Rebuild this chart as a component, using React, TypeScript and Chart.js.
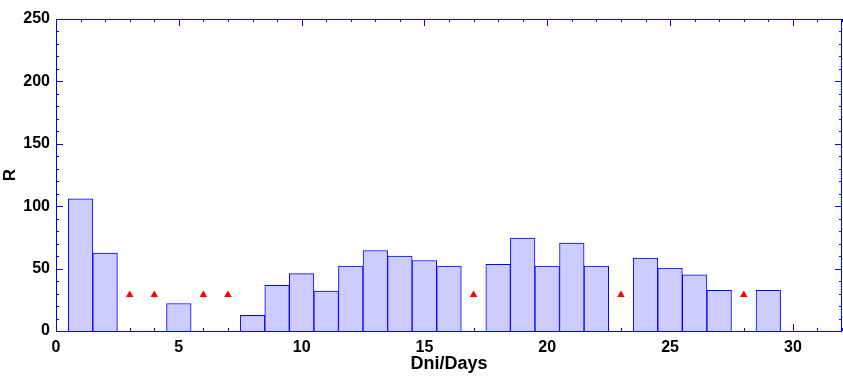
import React, { useEffect, useRef } from "react";
import { Chart, registerables } from "chart.js";

Chart.register(...registerables);

const barDays = [1, 2, 5, 8, 9, 10, 11, 12, 13, 14, 15, 16, 18, 19, 20, 21, 22, 24, 25, 26, 27, 29];
const barValues = [106, 62.5, 22, 12.5, 36.5, 46, 32, 52, 64.5, 60, 56.5, 52, 53.5, 74.5, 52, 70.5, 52, 58.5, 50.5, 45, 32.5, 32.5];
const markerDays = [3, 4, 6, 7, 17, 23, 28];
const markerValues = [29, 29, 29, 29, 29, 29, 29];

const X_MIN = 0;
const X_MAX = 32;
const Y_MIN = 0;
const Y_MAX = 250;

const BLUE = "#0000ff";
const FONT = "'Liberation Sans', Arial, sans-serif";

const tickPlugin = {
  id: "innerTicks",
  beforeDatasetsDraw(chart: any) {
    const { ctx, chartArea, scales } = chart;
    const xs = scales.x;
    const ys = scales.y;
    ctx.save();
    ctx.strokeStyle = BLUE;
    ctx.lineWidth = 1;
    ctx.beginPath();
    for (let v = X_MIN; v <= X_MAX; v += 1) {
      const px = Math.round(xs.getPixelForValue(v)) + 0.5;
      const len = v % 5 === 0 ? 7 : 3;
      ctx.moveTo(px, chartArea.top);
      ctx.lineTo(px, chartArea.top + len);
      ctx.moveTo(px, chartArea.bottom);
      ctx.lineTo(px, chartArea.bottom - len);
    }
    for (let v = Y_MIN; v <= Y_MAX; v += 10) {
      const py = Math.round(ys.getPixelForValue(v)) + 0.5;
      const len = v % 50 === 0 ? 7 : 3;
      ctx.moveTo(chartArea.left, py);
      ctx.lineTo(chartArea.left + len, py);
      ctx.moveTo(chartArea.right, py);
      ctx.lineTo(chartArea.right - len, py);
    }
    ctx.stroke();
    ctx.restore();
  },
  afterDatasetsDraw(chart: any) {
    const { ctx, chartArea } = chart;
    ctx.save();
    ctx.strokeStyle = BLUE;
    ctx.lineWidth = 1;
    const l = Math.round(chartArea.left) + 0.5;
    const r = Math.round(chartArea.right) - 0.5;
    const t = Math.round(chartArea.top) + 0.5;
    const b = Math.round(chartArea.bottom) + 0.5;
    ctx.strokeRect(l, t, r - l, b - t);
    ctx.restore();
  },
};

export default function App() {
  const canvasRef = useRef<HTMLCanvasElement | null>(null);

  useEffect(() => {
    document.body.style.margin = "0";
    const canvas = canvasRef.current;
    if (!canvas) return;
    const chart = new Chart(canvas, {
      type: "bar",
      data: {
        datasets: [
          {
            type: "bar",
            label: "R",
            data: barDays.map((d, i) => ({ x: d, y: barValues[i] })),
            backgroundColor: "#ccccff",
            borderColor: BLUE,
            borderWidth: 1,
            borderSkipped: "start",
            categoryPercentage: 1,
            barPercentage: 1,
            order: 2,
          } as any,
          {
            type: "scatter",
            label: "missing",
            data: markerDays.map((d, i) => ({ x: d, y: markerValues[i] })),
            pointStyle: "triangle",
            radius: 4.4,
            backgroundColor: "#ff0000",
            borderColor: "#ff0000",
            borderWidth: 0,
            order: 1,
          } as any,
        ],
      },
      options: {
        animation: false,
        responsive: false,
        maintainAspectRatio: false,
        layout: { autoPadding: false, padding: { top: 19, right: 1, left: 0, bottom: 0 } },
        plugins: {
          legend: { display: false },
          tooltip: { enabled: false },
        },
        scales: {
          x: {
            type: "linear",
            min: X_MIN,
            max: X_MAX,
            offset: false,
            grid: { display: false, drawTicks: false, tickLength: 0 },
            border: { display: false },
            ticks: {
              stepSize: 5,
              includeBounds: false,
              autoSkip: false,
              maxRotation: 0,
              padding: 7,
              color: "#000",
              font: { family: FONT, size: 16, weight: "bold" },
            },
            title: {
              display: true,
              text: "Dni/Days",
              color: "#000",
              padding: { top: 0, bottom: 1 },
              font: { family: FONT, size: 18, weight: "bold" },
            },
            afterFit(scale: any) {
              scale.height = 45;
              scale.paddingLeft = 0;
              scale.paddingRight = 0;
            },
          },
          y: {
            type: "linear",
            min: Y_MIN,
            max: Y_MAX,
            grid: { display: false, drawTicks: false, tickLength: 0 },
            border: { display: false },
            ticks: {
              stepSize: 50,
              padding: 6,
              color: "#000",
              font: { family: FONT, size: 16, weight: "bold" },
            },
            title: {
              display: true,
              text: "R",
              color: "#000",
              padding: { top: 0, bottom: 0 },
              font: { family: FONT, size: 17, weight: "bold" },
            },
            afterFit(scale: any) {
              scale.width = 56;
              scale.paddingTop = 0;
              scale.paddingBottom = 0;
            },
          },
        },
      } as any,
      plugins: [tickPlugin],
    });
    return () => chart.destroy();
  }, []);

  return (
    <div style={{ position: "absolute", left: 0, top: 0, width: 843, height: 376, background: "#fff" }}>
      <canvas ref={canvasRef} width={843} height={376} />
    </div>
  );
}
